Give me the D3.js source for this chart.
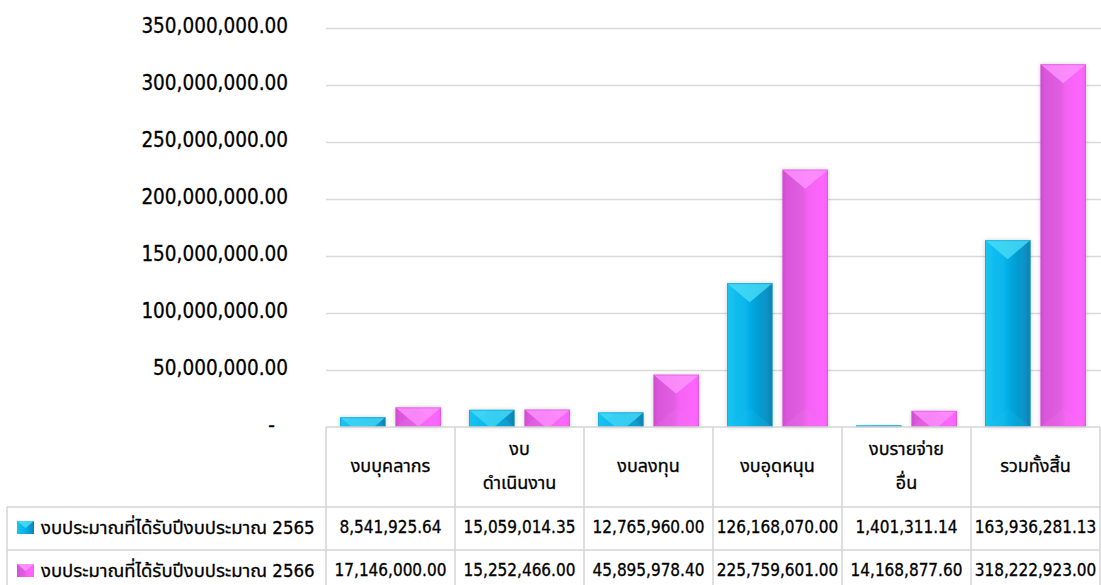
<!DOCTYPE html>
<html>
<head>
<meta charset="utf-8">
<script src="https://cdn.jsdelivr.net/npm/d3@7"></script>
<style>
  html, body { margin: 0; padding: 0; background: #fff; }
  svg { display: block; }
  text { font-family: "DejaVu Sans Condensed", "DejaVu Sans", "Noto Sans Thai", "Noto Sans", sans-serif; fill: #000; stroke: #000; stroke-width: 0.3; }
</style>
</head>
<body>
<svg id="chart" width="1101" height="585"></svg>
<script>
// ---- data ----
const categories = ["งบบุคลากร", "งบ\nดำเนินงาน", "งบลงทุน", "งบอุดหนุน", "งบรายจ่าย\nอื่น", "รวมทั้งสิ้น"];
const seriesNames = ["งบประมาณที่ได้รับปีงบประมาณ 2565", "งบประมาณที่ได้รับปีงบประมาณ 2566"];
const values2565 = [8541925.64, 15059014.35, 12765960.00, 126168070.00, 1401311.14, 163936281.13];
const values2566 = [17146000.00, 15252466.00, 45895978.40, 225759601.00, 14168877.60, 318222923.00];
const yTicks = [0, 50000000, 100000000, 150000000, 200000000, 250000000, 300000000, 350000000];

const seriesValues = [values2565, values2566];
const palette = [
  { stops: [[0, "#1ac4f2"], [0.1, "#14c0f0"], [0.45, "#06b4ea"], [0.55, "#04a8df"], [0.9, "#088fc2"], [1, "#0a7fab"]],
    top: "#4adcf6", bottom: "#20c4ee", edge: "#0a9bd0" },
  { stops: [[0, "#cf4ccf"], [0.1, "#da56da"], [0.45, "#e05ee0"], [0.55, "#f462f4"], [0.9, "#fd66fd"], [1, "#f060f0"]],
    top: "#ff95ff", bottom: "#f47af4", edge: "#d850d8" }
];

const W = 1101, H = 585;
const plotL = 326, plotR = 1100, plotT = 28, plotB = 427;
const headerB = 507, row1B = 550, row2B = 593, tableL = 7;

const svg = d3.select("#chart");
const defs = svg.append("defs");

const x0 = d3.scaleBand().domain(categories).range([plotL, plotR]).paddingInner(0).paddingOuter(0);
const x1 = d3.scaleBand().domain(seriesNames).range([14, x0.bandwidth() - 14]).paddingInner(0.18);
const y = d3.scaleLinear().domain([0, 350000000]).range([plotB, plotT]);

// gradients
palette.forEach((p, i) => {
  const g = defs.append("linearGradient").attr("id", "grad" + i).attr("x1", "0").attr("x2", "1").attr("y1", "0").attr("y2", "0");
  p.stops.forEach(s => g.append("stop").attr("offset", s[0]).attr("stop-color", s[1]));
});
const f = defs.append("filter").attr("id", "shadow").attr("x", "-30%").attr("y", "-30%").attr("width", "160%").attr("height", "160%");
f.append("feDropShadow").attr("dx", 0).attr("dy", 0).attr("stdDeviation", 2).attr("flood-color", "#000").attr("flood-opacity", 0.2);

// gridlines
svg.append("g").selectAll("line").data(yTicks.filter(d => d > 0)).join("line")
  .attr("x1", plotL).attr("x2", W).attr("y1", d => Math.round(y(d)) + 0.5).attr("y2", d => Math.round(y(d)) + 0.5)
  .attr("stroke", "#d9d9d9").attr("stroke-width", 1.5);

// y axis labels
const fmt = d3.format(",.2f");
svg.append("g").selectAll("text").data(yTicks).join("text")
  .attr("x", d => d === 0 ? 275 : 288)
  .attr("y", d => y(d) - 2)
  .attr("text-anchor", "end")
  .attr("dominant-baseline", "central")
  .attr("font-size", 20.5)
  .text(d => d === 0 ? "-" : fmt(d));

// bars
const barG = svg.append("g");
categories.forEach((c, ci) => {
  seriesNames.forEach((s, si) => {
    const v = seriesValues[si][ci];
    const bx = x0(c) + x1(s), bw = x1.bandwidth();
    const by = y(v), bh = y(0) - y(v);
    const p = palette[si];
    const g = barG.append("g");
    g.append("rect").attr("x", bx).attr("y", by).attr("width", bw).attr("height", bh)
      .attr("fill", "url(#grad" + si + ")").attr("filter", "url(#shadow)");
    const clipId = "clip" + ci + "_" + si;
    defs.append("clipPath").attr("id", clipId).append("rect").attr("x", bx).attr("y", by).attr("width", bw).attr("height", bh);
    const tri = bw * 0.42;
    g.append("polygon").attr("clip-path", "url(#" + clipId + ")")
      .attr("points", [[bx, by], [bx + bw, by], [bx + bw / 2, by + tri]].map(q => q.join(",")).join(" "))
      .attr("fill", p.top).attr("opacity", 0.8);
    g.append("polygon").attr("clip-path", "url(#" + clipId + ")")
      .attr("points", [[bx, by + bh], [bx + bw, by + bh], [bx + bw / 2, by + bh - tri]].map(q => q.join(",")).join(" "))
      .attr("fill", p.bottom).attr("opacity", 0.2);
    g.append("rect").attr("x", bx + 0.5).attr("y", by + 0.5).attr("width", bw - 1).attr("height", Math.max(0, bh - 1))
      .attr("fill", "none").attr("stroke", p.edge).attr("stroke-width", 1).attr("opacity", 0.5);
  });
});

// table
const tg = svg.append("g");
const gridColor = "#d4d4d4";
tg.append("line").attr("x1", plotL).attr("x2", plotR).attr("y1", plotB).attr("y2", plotB).attr("stroke", gridColor).attr("stroke-width", 1.5);
[headerB, row1B, row2B].forEach(yy => {
  tg.append("line").attr("x1", tableL).attr("x2", plotR).attr("y1", yy).attr("y2", yy).attr("stroke", gridColor).attr("stroke-width", 1.5);
});
const colEdges = categories.map(c => x0(c)).concat([plotR]);
colEdges.forEach(xx => {
  tg.append("line").attr("x1", xx).attr("x2", xx).attr("y1", plotB).attr("y2", row2B).attr("stroke", gridColor).attr("stroke-width", 1.5);
});
tg.append("line").attr("x1", tableL).attr("x2", tableL).attr("y1", headerB).attr("y2", row2B).attr("stroke", gridColor).attr("stroke-width", 1.5);

// header text
categories.forEach(c => {
  const lines = c.split("\n");
  const cx = x0(c) + x0.bandwidth() / 2;
  const cy = (plotB + headerB) / 2 - 2;
  const lh = 34;
  const t = tg.append("text").attr("text-anchor", "middle").attr("font-size", 18);
  lines.forEach((ln, i) => {
    t.append("tspan").attr("x", cx).attr("y", cy + (i - (lines.length - 1) / 2) * lh).attr("dominant-baseline", "central").text(ln);
  });
});

// rows
const rowTops = [headerB, row1B];
seriesNames.forEach((s, si) => {
  const cy = rowTops[si] + 20;
  const p = palette[si];
  const sw = tg.append("g");
  sw.append("rect").attr("x", 17).attr("y", cy - 6).attr("width", 17).attr("height", 13).attr("fill", "url(#grad" + si + ")");
  sw.append("polygon").attr("points", [[17, cy - 6], [34, cy - 6], [25.5, cy + 1]].map(q => q.join(",")).join(" ")).attr("fill", p.top).attr("opacity", 0.85);
  tg.append("text").attr("x", 41).attr("y", cy).attr("dominant-baseline", "central").attr("font-size", 18.5).text(s);
  categories.forEach((c, ci) => {
    tg.append("text").attr("x", x0(c) + x0.bandwidth() / 2).attr("y", cy)
      .attr("text-anchor", "middle").attr("dominant-baseline", "central").attr("font-size", 17)
      .text(fmt(seriesValues[si][ci]));
  });
});
</script>
</body>
</html>
